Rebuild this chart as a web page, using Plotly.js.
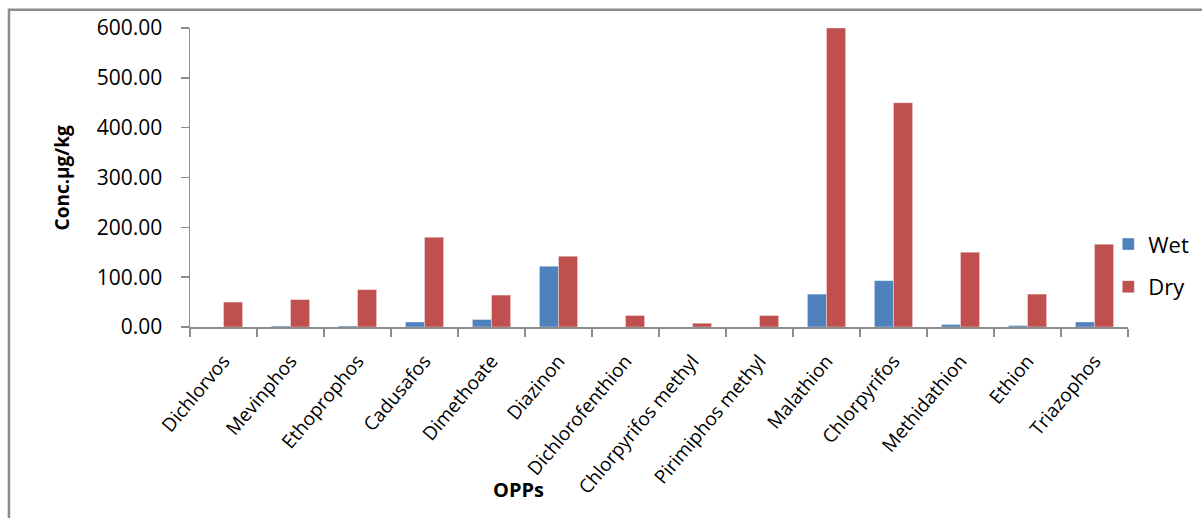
<!DOCTYPE html>
<html>
<head>
<meta charset="utf-8">
<script src="https://cdn.plot.ly/plotly-3.0.1.min.js"></script>
<style>
  html, body { margin: 0; padding: 0; background: #ffffff; }
  #chart { width: 1202px; height: 518px; }
</style>
</head>
<body>
<div id="chart"></div>
<script>
// Organophosphorus pesticide residues (µg/kg), wet vs dry season
const compounds = [
  "Dichlorvos", "Mevinphos", "Ethoprophos", "Cadusafos", "Dimethoate",
  "Diazinon", "Dichlorofenthion", "Chlorpyrifos methyl", "Pirimiphos methyl",
  "Malathion", "Chlorpyrifos", "Methidathion", "Ethion", "Triazophos"
];
const wetValues = [0, 2, 2, 10, 15, 122, 0, 0, 0, 66, 93, 5, 3, 10];
const dryValues = [50, 55, 75, 180, 64, 142, 23, 7.5, 23, 600, 450, 150, 66, 166];
const yTicks = [0, 100, 200, 300, 400, 500, 600];

const FONT = "'Open Sans', 'Noto Sans', sans-serif";

const traces = [
  {
    type: "bar", name: "Wet", x: compounds, y: wetValues,
    marker: { color: "#4F81BD", line: { color: "rgba(255,255,255,0.35)", width: 1 } },
    legendgroup: "wet", hoverinfo: "x+y"
  },
  {
    type: "bar", name: "Dry", x: compounds, y: dryValues,
    marker: { color: "#C0504D", line: { color: "rgba(255,255,255,0.35)", width: 1 } },
    legendgroup: "dry", hoverinfo: "x+y"
  }
];

const layout = {
  width: 1202, height: 518,
  margin: { l: 190, r: 74, t: 28, b: 191, pad: 0, autoexpand: false },
  paper_bgcolor: "#ffffff", plot_bgcolor: "#ffffff",
  font: { family: FONT, color: "#000000" },
  barmode: "group", bargap: 0.43, bargroupgap: 0,
  showlegend: true,
  legend: {
    x: 0.979, xanchor: "left", y: 0.347, yanchor: "top",
    font: { family: FONT, size: 22, color: "#000000" },
    traceorder: "grouped", tracegroupgap: 11,
    bgcolor: "rgba(0,0,0,0)"
  },
  xaxis: {
    type: "category",
    showline: true, linecolor: "#8c8c8c", linewidth: 1.5,
    ticks: "outside", tickson: "boundaries", ticklen: 8, tickcolor: "#8c8c8c", tickwidth: 1.5,
    ticklabelstandoff: 14,
    tickangle: -50, tickfont: { family: FONT, size: 19, color: "#000000" },
    showgrid: false, zeroline: false, fixedrange: true
  },
  yaxis: {
    range: [0, 600],
    tickvals: yTicks, tickformat: ".2f",
    showline: true, linecolor: "#8c8c8c", linewidth: 1.5,
    ticks: "outside", ticklen: 8, tickcolor: "#8c8c8c", tickwidth: 1.5,
    ticklabelstandoff: 14,
    tickfont: { family: FONT, size: 21, color: "#000000" },
    showgrid: false, zeroline: false, fixedrange: true
  },
  annotations: [
    {
      text: "<b>Conc.µg/kg</b>", xref: "paper", yref: "paper",
      x: -0.1365, y: 0.5, xanchor: "center", yanchor: "middle",
      textangle: -90, showarrow: false,
      font: { family: FONT, size: 19, color: "#000000" }
    },
    {
      text: "<b>OPPs</b>", xref: "paper", yref: "paper",
      x: 0.35, y: -0.545, xanchor: "center", yanchor: "middle",
      showarrow: false,
      font: { family: FONT, size: 20, color: "#000000" }
    }
  ],
  shapes: [
    {
      // outer chart frame
      type: "rect", xref: "paper", yref: "paper",
      x0: -0.193, x1: 1.2, y0: -0.7, y1: 1.061,
      line: { color: "#8c8c8c", width: 2.5 }, fillcolor: "rgba(0,0,0,0)",
      layer: "below"
    }
  ]
};

Plotly.newPlot("chart", traces, layout, { displayModeBar: false, staticPlot: true });
</script>
</body>
</html>
